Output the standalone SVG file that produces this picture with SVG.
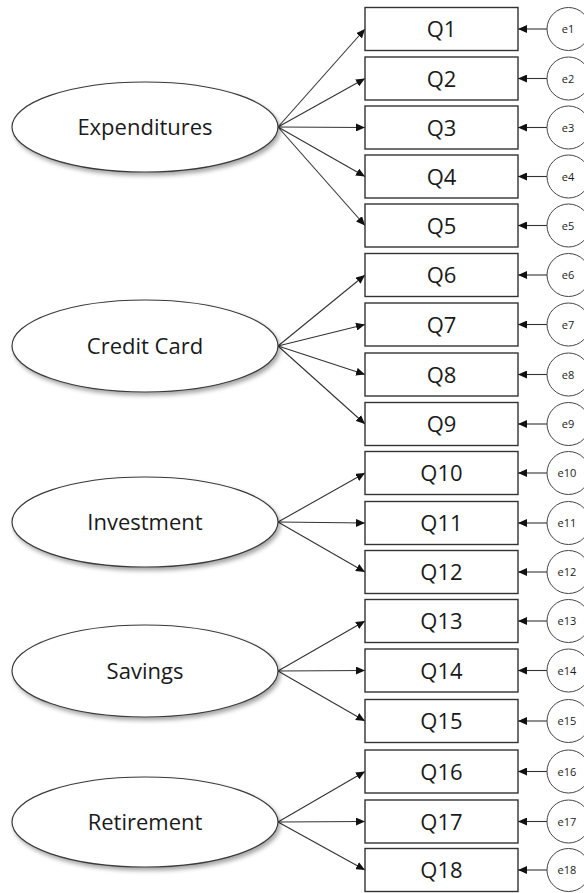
<svg xmlns="http://www.w3.org/2000/svg" width="584" height="893" viewBox="0 0 584 893">
<style>
  .lat ellipse { fill: #ffffff; stroke: #3a3a3a; stroke-width: 1.2; filter: url(#shadow); }
  .lat text { font-family: "Open Sans", "Liberation Sans", sans-serif; font-size: 22px; fill: #1a1a1a; text-anchor: middle; }
  .obs rect { fill: #ffffff; stroke: #333333; stroke-width: 1.4; }
  .obs text { font-family: "Open Sans", "Liberation Sans", sans-serif; font-size: 22px; fill: #1a1a1a; text-anchor: middle; }
  .err circle { fill: #ffffff; stroke: #444444; stroke-width: 1; }
  .err text { font-family: "Open Sans", "Liberation Sans", sans-serif; font-size: 11px; fill: #1a1a1a; text-anchor: middle; }
  #connectors line { stroke: #333333; stroke-width: 1.1; marker-end: url(#arrow); }
</style>
<defs>
  <marker id="arrow" markerUnits="userSpaceOnUse" markerWidth="9" markerHeight="8" refX="9" refY="4" orient="auto">
    <path d="M0,0 L9,4 L0,8 z" fill="#111111"/>
  </marker>
  <filter id="shadow" x="-10%" y="-20%" width="130%" height="150%">
    <feDropShadow dx="2" dy="3" stdDeviation="2" flood-color="#000000" flood-opacity="0.35"/>
  </filter>
</defs>
<rect width="584" height="893" fill="#ffffff"/>

<g id="connectors">
  <line x1="278" y1="127" x2="365" y2="29"/>
  <line x1="278" y1="127" x2="365" y2="78.5"/>
  <line x1="278" y1="127" x2="365" y2="127.5"/>
  <line x1="278" y1="127" x2="365" y2="176.5"/>
  <line x1="278" y1="127" x2="365" y2="225.5"/>
  <line x1="278" y1="346" x2="365" y2="275"/>
  <line x1="278" y1="346" x2="365" y2="324.5"/>
  <line x1="278" y1="346" x2="365" y2="374.5"/>
  <line x1="278" y1="346" x2="365" y2="424"/>
  <line x1="278" y1="522" x2="365" y2="473"/>
  <line x1="278" y1="522" x2="365" y2="523"/>
  <line x1="278" y1="522" x2="365" y2="572"/>
  <line x1="278" y1="671" x2="365" y2="621"/>
  <line x1="278" y1="671" x2="365" y2="670.5"/>
  <line x1="278" y1="671" x2="365" y2="721"/>
  <line x1="278" y1="822" x2="365" y2="771.5"/>
  <line x1="278" y1="822" x2="365" y2="821.5"/>
  <line x1="278" y1="822" x2="365" y2="870"/>
  <line x1="547" y1="29" x2="518" y2="29"/>
  <line x1="547" y1="78.5" x2="518" y2="78.5"/>
  <line x1="547" y1="127.5" x2="518" y2="127.5"/>
  <line x1="547" y1="176.5" x2="518" y2="176.5"/>
  <line x1="547" y1="225.5" x2="518" y2="225.5"/>
  <line x1="547" y1="275" x2="518" y2="275"/>
  <line x1="547" y1="324.5" x2="518" y2="324.5"/>
  <line x1="547" y1="374.5" x2="518" y2="374.5"/>
  <line x1="547" y1="424" x2="518" y2="424"/>
  <line x1="547" y1="473" x2="518" y2="473"/>
  <line x1="547" y1="523" x2="518" y2="523"/>
  <line x1="547" y1="572" x2="518" y2="572"/>
  <line x1="547" y1="621" x2="518" y2="621"/>
  <line x1="547" y1="670.5" x2="518" y2="670.5"/>
  <line x1="547" y1="721" x2="518" y2="721"/>
  <line x1="547" y1="771.5" x2="518" y2="771.5"/>
  <line x1="547" y1="821.5" x2="518" y2="821.5"/>
  <line x1="547" y1="870" x2="518" y2="870"/>
</g>

<g id="latent-expenditures" class="lat"><ellipse cx="145" cy="127" rx="133" ry="45"/><text x="145" y="135">Expenditures</text></g>
<g id="latent-creditcard" class="lat"><ellipse cx="145" cy="346" rx="133" ry="46"/><text x="145" y="354">Credit Card</text></g>
<g id="latent-investment" class="lat"><ellipse cx="145" cy="522" rx="133" ry="45"/><text x="145" y="530">Investment</text></g>
<g id="latent-savings" class="lat"><ellipse cx="145" cy="671" rx="133" ry="46"/><text x="145" y="679">Savings</text></g>
<g id="latent-retirement" class="lat"><ellipse cx="145" cy="822" rx="133" ry="45"/><text x="145" y="830">Retirement</text></g>

<g id="q1" class="obs"><rect x="365" y="7.5" width="153" height="43"/><text x="441.5" y="37">Q1</text></g>
<g id="q2" class="obs"><rect x="365" y="57" width="153" height="43"/><text x="441.5" y="86.5">Q2</text></g>
<g id="q3" class="obs"><rect x="365" y="106" width="153" height="43"/><text x="441.5" y="135.5">Q3</text></g>
<g id="q4" class="obs"><rect x="365" y="155" width="153" height="43"/><text x="441.5" y="184.5">Q4</text></g>
<g id="q5" class="obs"><rect x="365" y="204" width="153" height="43"/><text x="441.5" y="233.5">Q5</text></g>
<g id="q6" class="obs"><rect x="365" y="253.5" width="153" height="43"/><text x="441.5" y="283">Q6</text></g>
<g id="q7" class="obs"><rect x="365" y="303" width="153" height="43"/><text x="441.5" y="332.5">Q7</text></g>
<g id="q8" class="obs"><rect x="365" y="353" width="153" height="43"/><text x="441.5" y="382.5">Q8</text></g>
<g id="q9" class="obs"><rect x="365" y="402.5" width="153" height="43"/><text x="441.5" y="432">Q9</text></g>
<g id="q10" class="obs"><rect x="365" y="451.5" width="153" height="43"/><text x="441.5" y="481">Q10</text></g>
<g id="q11" class="obs"><rect x="365" y="501.5" width="153" height="43"/><text x="441.5" y="531">Q11</text></g>
<g id="q12" class="obs"><rect x="365" y="550.5" width="153" height="43"/><text x="441.5" y="580">Q12</text></g>
<g id="q13" class="obs"><rect x="365" y="599.5" width="153" height="43"/><text x="441.5" y="629">Q13</text></g>
<g id="q14" class="obs"><rect x="365" y="649" width="153" height="43"/><text x="441.5" y="678.5">Q14</text></g>
<g id="q15" class="obs"><rect x="365" y="699.5" width="153" height="43"/><text x="441.5" y="729">Q15</text></g>
<g id="q16" class="obs"><rect x="365" y="750" width="153" height="43"/><text x="441.5" y="779.5">Q16</text></g>
<g id="q17" class="obs"><rect x="365" y="800" width="153" height="43"/><text x="441.5" y="829.5">Q17</text></g>
<g id="q18" class="obs"><rect x="365" y="848.5" width="153" height="43"/><text x="441.5" y="878">Q18</text></g>

<g id="e1" class="err"><circle cx="568.5" cy="29" r="21.5"/><text x="568" y="33">e1</text></g>
<g id="e2" class="err"><circle cx="568.5" cy="78.5" r="21.5"/><text x="568" y="82.5">e2</text></g>
<g id="e3" class="err"><circle cx="568.5" cy="127.5" r="21.5"/><text x="568" y="131.5">e3</text></g>
<g id="e4" class="err"><circle cx="568.5" cy="176.5" r="21.5"/><text x="568" y="180.5">e4</text></g>
<g id="e5" class="err"><circle cx="568.5" cy="225.5" r="21.5"/><text x="568" y="229.5">e5</text></g>
<g id="e6" class="err"><circle cx="568.5" cy="275" r="21.5"/><text x="568" y="279">e6</text></g>
<g id="e7" class="err"><circle cx="568.5" cy="324.5" r="21.5"/><text x="568" y="328.5">e7</text></g>
<g id="e8" class="err"><circle cx="568.5" cy="374.5" r="21.5"/><text x="568" y="378.5">e8</text></g>
<g id="e9" class="err"><circle cx="568.5" cy="424" r="21.5"/><text x="568" y="428">e9</text></g>
<g id="e10" class="err"><circle cx="568.5" cy="473" r="21.5"/><text x="567" y="477">e10</text></g>
<g id="e11" class="err"><circle cx="568.5" cy="523" r="21.5"/><text x="567" y="527">e11</text></g>
<g id="e12" class="err"><circle cx="568.5" cy="572" r="21.5"/><text x="567" y="576">e12</text></g>
<g id="e13" class="err"><circle cx="568.5" cy="621" r="21.5"/><text x="567" y="625">e13</text></g>
<g id="e14" class="err"><circle cx="568.5" cy="670.5" r="21.5"/><text x="567" y="674.5">e14</text></g>
<g id="e15" class="err"><circle cx="568.5" cy="721" r="21.5"/><text x="567" y="725">e15</text></g>
<g id="e16" class="err"><circle cx="568.5" cy="771.5" r="21.5"/><text x="567" y="775.5">e16</text></g>
<g id="e17" class="err"><circle cx="568.5" cy="821.5" r="21.5"/><text x="567" y="825.5">e17</text></g>
<g id="e18" class="err"><circle cx="568.5" cy="870" r="21.5"/><text x="567" y="874">e18</text></g>
</svg>
